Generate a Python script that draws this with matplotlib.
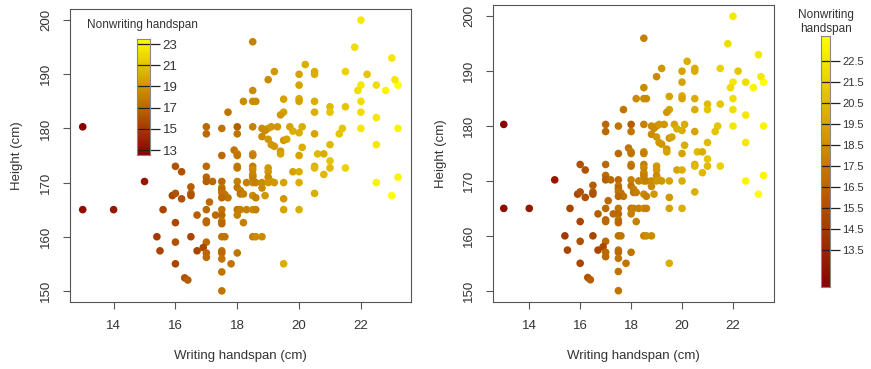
import numpy as np
import matplotlib.pyplot as plt
from matplotlib.colors import LinearSegmentedColormap, Normalize

plt.rcParams['font.family'] = ['Liberation Sans', 'DejaVu Sans']

# writing handspan, height, nonwriting handspan
wr_hnd = [13.0, 13.0, 14.0, 15.0, 22.0, 21.8, 18.5, 23.0, 23.2, 23.1, 22.8, 22.5, 22.0, 21.9,
          22.2, 21.5, 20.2, 20.5, 20.5, 20.0, 19.2, 19.0, 20.0, 18.5, 20.0, 20.0, 19.5, 18.2,
          18.5, 18.6, 20.5, 22.0, 17.7, 19.5, 19.4, 20.5, 21.0, 21.0, 21.5, 22.0, 22.5, 17.0,
          17.0, 17.5, 18.0, 18.0, 18.5, 18.8, 19.0, 18.9, 19.1, 19.3, 19.7, 19.8, 20.1, 20.0,
          20.5, 21.4, 21.3, 22.0, 23.2, 18.8, 19.0, 19.1, 19.2, 19.5, 19.6, 19.4, 19.4, 20.1,
          21.0, 22.5, 17.9, 18.0, 18.0, 17.5, 18.5, 18.5, 20.0, 20.6, 20.8, 21.0, 17.0, 18.0,
          18.0, 18.5, 18.5, 18.5, 19.0, 19.0, 19.0, 19.8, 20.0, 20.5, 20.5, 21.0, 20.8, 21.5,
          16.0, 16.2, 17.0, 17.0, 17.2, 17.5, 17.5, 17.5, 17.5, 17.6, 17.7, 17.5, 18.0, 18.0,
          18.1, 18.1, 18.2, 18.3, 18.5, 18.6, 18.8, 19.0, 19.2, 19.1, 18.5, 18.5, 18.8, 18.9,
          18.5, 18.6, 19.5, 20.0, 20.5, 22.5, 23.2, 23.0, 16.5, 16.5, 16.5, 15.9, 16.0, 16.2,
          17.1, 15.6, 16.7, 17.0, 17.0, 17.0, 17.3, 17.5, 17.5, 17.5, 17.5, 18.0, 18.0, 18.1,
          18.3, 18.5, 18.6, 18.2, 19.5, 20.0, 19.5, 16.0, 15.4, 16.5, 17.5, 17.6, 18.5, 18.6,
          18.8, 16.0, 17.0, 15.5, 16.7, 16.9, 17.0, 17.0, 17.5, 17.5, 17.5, 18.0, 17.8, 16.0,
          19.5, 17.5, 16.3, 16.4, 17.5]
height = [180.3, 165.0, 165.0, 170.2, 200.0, 195.0, 196.0, 193.0, 188.0, 189.0, 187.0, 188.0,
          188.0, 187.0, 190.0, 190.5, 191.8, 190.5, 190.0, 190.0, 190.5, 189.0, 188.0, 187.0,
          185.5, 185.0, 185.4, 185.0, 185.0, 185.0, 185.0, 185.0, 183.0, 183.0, 182.5, 183.0,
          184.0, 183.0, 184.0, 183.0, 182.0, 180.3, 179.0, 180.0, 180.3, 179.0, 180.3, 180.0,
          180.0, 179.6, 180.3, 180.3, 180.3, 179.5, 180.3, 179.2, 179.0, 180.0, 179.0, 180.0,
          180.0, 178.5, 178.0, 177.0, 176.7, 177.8, 178.0, 175.8, 175.3, 176.5, 177.0, 177.0,
          176.0, 175.3, 175.0, 175.0, 175.3, 175.0, 175.0, 175.3, 175.3, 174.0, 173.0, 173.0,
          172.7, 173.0, 172.4, 171.5, 172.7, 172.0, 171.0, 172.0, 172.0, 173.0, 172.7, 172.7,
          171.5, 172.7, 173.0, 172.0, 171.0, 170.2, 170.2, 170.2, 169.1, 168.6, 168.1, 167.8,
          167.2, 167.2, 170.2, 169.1, 168.5, 167.9, 167.9, 170.0, 170.0, 170.0, 170.0, 170.0,
          170.0, 170.2, 171.2, 170.9, 169.0, 167.6, 167.6, 167.2, 170.0, 170.0, 168.0, 170.0,
          171.0, 167.6, 169.2, 168.0, 167.6, 167.6, 168.0, 167.0, 166.4, 165.0, 164.0, 165.0,
          162.9, 162.6, 164.0, 165.0, 164.0, 162.9, 162.4, 165.0, 164.0, 165.0, 165.0, 165.0,
          165.0, 162.6, 165.0, 165.0, 167.0, 162.6, 160.0, 160.0, 160.0, 160.0, 160.0, 160.0,
          160.0, 159.0, 159.0, 157.4, 157.4, 158.0, 157.0, 156.2, 157.4, 157.0, 155.9, 157.0,
          155.0, 155.0, 155.0, 153.5, 152.4, 152.0, 150.0]
nw_hnd = [12.5, 13.0, 13.5, 13.5, 22.5, 22.0, 18.0, 22.5, 23.5, 22.5, 23.0, 22.0, 22.5, 22.0,
          21.0, 21.5, 20.0, 20.0, 20.0, 19.5, 19.0, 18.5, 19.5, 18.5, 20.0, 19.5, 19.5, 18.5,
          18.5, 18.5, 20.0, 22.0, 17.5, 19.5, 19.0, 20.0, 20.5, 21.0, 21.0, 22.0, 22.5, 17.0,
          17.0, 17.5, 16.5, 17.5, 18.0, 18.5, 19.0, 18.5, 19.0, 19.0, 19.5, 20.0, 20.0, 20.0,
          19.5, 21.0, 21.0, 22.5, 23.0, 18.5, 19.0, 19.0, 19.0, 19.0, 19.5, 19.0, 19.5, 20.0,
          20.5, 22.5, 17.5, 18.0, 17.5, 17.0, 18.5, 18.0, 19.5, 20.5, 20.0, 21.0, 17.0, 18.0,
          17.5, 18.0, 18.5, 18.0, 19.0, 19.0, 18.5, 19.5, 20.0, 20.0, 20.5, 20.5, 20.5, 21.5,
          16.0, 16.0, 17.0, 16.5, 17.0, 17.0, 17.5, 17.0, 17.5, 17.5, 17.5, 17.0, 18.0, 17.5,
          18.0, 17.5, 18.0, 18.0, 18.5, 18.0, 18.5, 19.0, 19.0, 19.0, 18.5, 18.0, 18.5, 19.0,
          18.5, 18.0, 19.5, 20.0, 20.0, 23.0, 23.0, 23.5, 16.5, 16.5, 16.0, 15.5, 16.0, 16.0,
          17.0, 15.5, 16.5, 17.0, 16.5, 17.0, 17.0, 17.5, 17.0, 17.5, 17.0, 17.5, 18.0, 18.0,
          18.0, 18.5, 18.0, 18.0, 19.5, 20.0, 19.0, 15.5, 15.0, 15.5, 17.5, 17.5, 18.0, 18.5,
          18.5, 16.0, 17.0, 15.5, 15.5, 15.5, 17.0, 17.0, 17.5, 17.0, 17.5, 17.5, 17.5, 15.5,
          20.0, 17.5, 16.0, 16.5, 17.5]

left_ticks = [13, 15, 17, 19, 21, 23]
right_ticks = [13.5, 14.5, 15.5, 16.5, 17.5, 18.5, 19.5, 20.5, 21.5, 22.5]

cmap = LinearSegmentedColormap.from_list('nw', ['#8B0000', '#FFFF00'])
norm = Normalize(vmin=12.5, vmax=23.5)
ink = '#333333'
frame = '#555555'

fig = plt.figure(figsize=(8.71, 3.69), dpi=100)


def panel(rect):
    ax = fig.add_axes(rect)
    ax.scatter(wr_hnd, height, c=nw_hnd, cmap=cmap, norm=norm, s=30, linewidths=0)
    ax.set_xlim(12.59, 23.61)
    ax.set_ylim(148, 202)
    ax.set_xticks([14, 16, 18, 20, 22])
    ax.set_yticks([150, 160, 170, 180, 190, 200])
    ax.set_yticklabels(['150', '160', '170', '180', '190', '200'], rotation=90, va='center')
    ax.tick_params(direction='out', length=5, color=frame, labelcolor=ink, labelsize=9.5, pad=8)
    for s in ax.spines.values():
        s.set_color(frame)
    ax.set_xlabel('Writing handspan (cm)', fontsize=9.5, color=ink, labelpad=13)
    ax.set_ylabel('Height (cm)', fontsize=9.5, color=ink, labelpad=12)
    return ax


def gradient_bar(rect, lo, hi, ticks, labelsize):
    cax = fig.add_axes(rect)
    grad = np.linspace(0, 1, 256)[:, None]
    cax.imshow(grad, cmap=cmap, aspect='auto', origin='lower', extent=[0, 1, lo, hi])
    cax.set_xlim(0, 1)
    cax.set_ylim(lo, hi)
    cax.hlines(ticks, 0, 1, color='#222222', lw=0.9)
    cax.set_xticks([])
    cax.yaxis.tick_right()
    cax.set_yticks(ticks)
    cax.set_yticklabels([f'{t:g}' for t in ticks])
    cax.tick_params(axis='y', direction='out', length=7, width=0.9, color='#222222',
                    labelcolor=ink, labelsize=labelsize, pad=2)
    for s in cax.spines.values():
        s.set_color('#888888')
    return cax


ax1 = panel([0.0804, 0.1824, 0.3911, 0.7924])
ax2 = panel([0.5664, 0.1824, 0.3222, 0.8032])

# inset legend on the left panel
gradient_bar([0.157, 0.5791, 0.0152, 0.3160], 12.5, 23.5, left_ticks, 9.5)
fig.text(0.164, 0.932, 'Nonwriting handspan', ha='center', va='center', fontsize=8.5, color=ink)

# legend to the right of the right panel
gradient_bar([0.9426, 0.2222, 0.0103, 0.6802], 11.74, 23.69, right_ticks, 8)
fig.text(0.948, 0.940, 'Nonwriting\nhandspan', ha='center', va='center', fontsize=8.5,
         color=ink, linespacing=1.25)

fig.savefig('out.png', dpi=100)
